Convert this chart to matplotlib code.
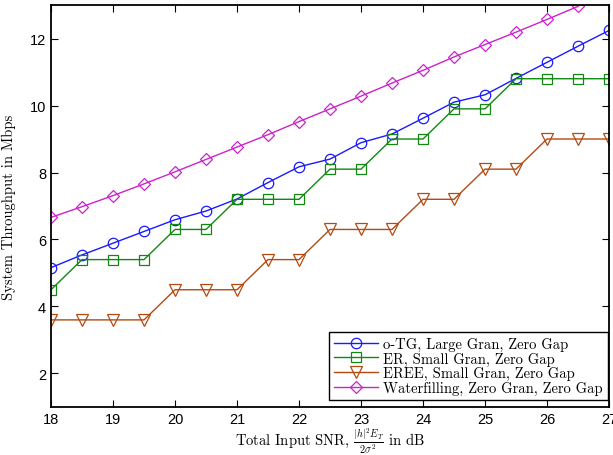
import matplotlib
matplotlib.use("Agg")
import matplotlib.pyplot as plt

plt.rcParams['mathtext.fontset'] = 'cm'

# total input SNR in dB
snr = [18, 18.5, 19, 19.5, 20, 20.5, 21, 21.5, 22, 22.5,
       23, 23.5, 24, 24.5, 25, 25.5, 26, 26.5, 27]

otg = [5.16, 5.54, 5.89, 6.24, 6.59, 6.85, 7.21, 7.70, 8.17, 8.40,
       8.89, 9.15, 9.62, 10.10, 10.32, 10.81, 11.29, 11.77, 12.24]
er = [4.5, 5.4, 5.4, 5.4, 6.3, 6.3, 7.2, 7.2, 7.2, 8.1,
      8.1, 9.0, 9.0, 9.9, 9.9, 10.8, 10.8, 10.8, 10.8]
eree = [3.6, 3.6, 3.6, 3.6, 4.5, 4.5, 4.5, 5.4, 5.4, 6.3,
        6.3, 6.3, 7.2, 7.2, 8.1, 8.1, 9.0, 9.0, 9.0]
# waterfilling goes off the top of the axes after 26.5 dB
wf_snr = snr[:-1]
wf = [6.66, 6.98, 7.31, 7.66, 8.02, 8.39, 8.76, 9.13, 9.52, 9.90,
      10.28, 10.67, 11.05, 11.45, 11.82, 12.19, 12.57, 12.96]

labels = ['o-TG, Large Gran, Zero Gap',
          'ER, Small Gran, Zero Gap',
          'EREE, Small Gran, Zero Gap',
          'Waterfilling, Zero Gran, Zero Gap']

fig = plt.figure(figsize=(6.13, 4.56), dpi=100)
ax = fig.add_axes([0.0832, 0.1053, 0.9103, 0.8815])

style = dict(linewidth=1.0, fillstyle='none', markeredgewidth=0.9)
ax.plot(snr, otg, '-o', color='#1a1aff', label=labels[0], markersize=7.5, **style)
ax.plot(snr, er, '-s', color='#118811', label=labels[1], markersize=7, **style)
ax.plot(snr, eree, '-v', color='#b34a12', label=labels[2], markersize=8.5, **style)
ax.plot(wf_snr, wf, '-D', color='#cc22cc', label=labels[3], markersize=6.5, **style)

ax.set_xlim(18, 27)
ax.set_ylim(1, 13)
ax.set_xticks(range(18, 28))
ax.set_yticks([2, 4, 6, 8, 10, 12])
ax.tick_params(direction='in', top=True, right=True, length=5, width=0.8,
               labelsize=10.5)
for lab in ax.get_xticklabels() + ax.get_yticklabels():
    lab.set_family('Liberation Sans')
for sp in ax.spines.values():
    sp.set_linewidth(1.3)

ax.set_xlabel(r'Total Input SNR, $\frac{|h|^2 E_T}{2\sigma^2}$ in dB',
              family='cmr10', fontsize=10.5, labelpad=0)
ax.set_ylabel('System Throughput in Mbps', family='cmr10', fontsize=10.5,
              labelpad=10)

leg = ax.legend(loc='lower right', bbox_to_anchor=(0.998, 0.017),
                borderaxespad=0, fancybox=False, framealpha=1,
                edgecolor='black', handlelength=3.0, handletextpad=0.35,
                labelspacing=0.05, borderpad=0.35,
                prop={'family': 'cmr10', 'size': 10.5})
leg.get_frame().set_linewidth(1.0)

fig.savefig('out.png', dpi=100)
